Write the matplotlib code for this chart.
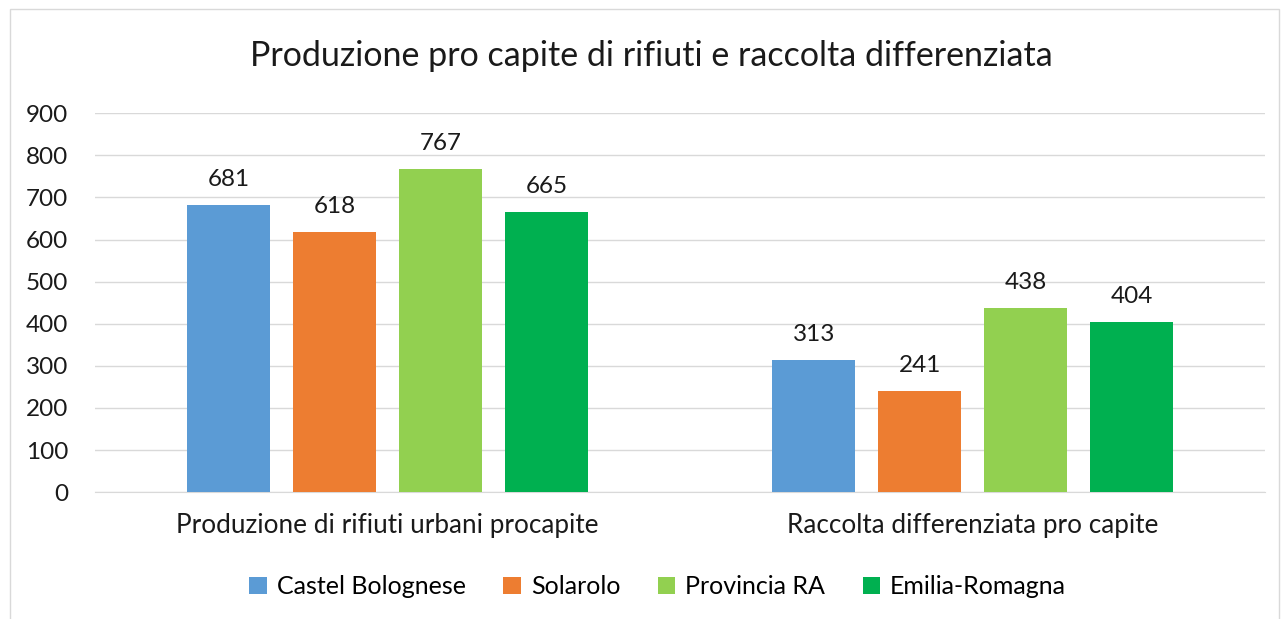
import numpy as np
import matplotlib.pyplot as plt

plt.rcParams['font.family'] = ['Lato', 'DejaVu Sans']

categories = ["Produzione di rifiuti urbani procapite", "Raccolta differenziata pro capite"]
series = ["Castel Bolognese", "Solarolo", "Provincia RA", "Emilia-Romagna"]
values = [
    [681, 313],
    [618, 241],
    [767, 438],
    [665, 404],
]
colors = ["#5B9BD5", "#ED7D31", "#92D050", "#00B050"]

fig = plt.figure(figsize=(12.82, 6.19), dpi=100)
ax = fig.add_axes([0.074, 0.205, 0.913, 0.612])

x = np.arange(len(categories))
width = 0.142
step = 0.181
for i, (name, vals) in enumerate(zip(series, values)):
    pos = x + (i - 1.5) * step
    bars = ax.bar(pos, vals, width, color=colors[i], label=name, zorder=3)
    for b, v in zip(bars, vals):
        ax.text(b.get_x() + b.get_width() / 2, v + 36, str(v),
                ha="center", va="bottom", fontsize=17.5, color="#1a1a1a")

ax.set_xlim(-0.5, 1.5)
ax.set_ylim(0, 900)
ax.set_yticks(range(0, 901, 100))
ax.set_xticks(x)
ax.set_xticklabels(categories, fontsize=18.8, color="#1a1a1a")
ax.tick_params(axis="y", labelsize=17.5, colors="#1a1a1a", length=0, pad=19)
ax.tick_params(axis="x", length=0, pad=15)
ax.grid(axis="y", color="#D9D9D9", linewidth=1, zorder=0)
for s in ["top", "right", "left"]:
    ax.spines[s].set_visible(False)
ax.spines["bottom"].set_color("#D9D9D9")

fig.text(0.508, 0.91, "Produzione pro capite di rifiuti e raccolta differenziata",
         ha="center", va="center", fontsize=24.5, color="#1a1a1a")

fig.legend(loc="center", bbox_to_anchor=(0.513, 0.052), ncol=4, frameon=False,
           fontsize=18, handlelength=0.7, handleheight=0.7, columnspacing=1.5,
           handletextpad=0.4)

border = plt.Rectangle((0.008, -0.01), 0.99, 0.995, transform=fig.transFigure,
                       fill=False, edgecolor="#D9D9D9", linewidth=1)
fig.patches.append(border)

fig.savefig("out.png")
plt.close(fig)
